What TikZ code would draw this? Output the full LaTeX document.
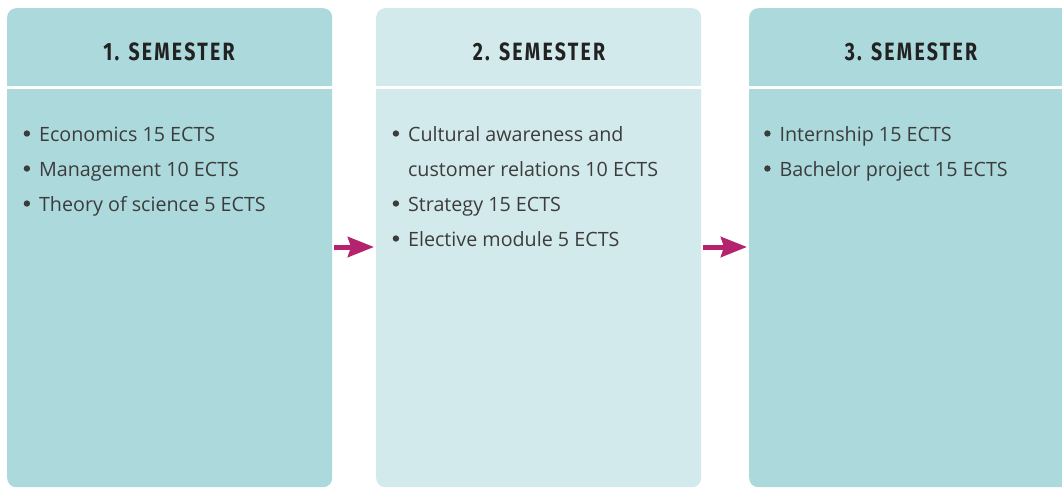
\documentclass[tikz,border=0pt]{standalone}
\usepackage{fontspec}
\setmainfont{Open Sans}
\newfontfamily\headfont[FakeStretch=0.78,LetterSpace=9]{Fira Sans Bold}
\usetikzlibrary{arrows.meta}
\definecolor{boxA}{HTML}{ACD9DC}
\definecolor{boxB}{HTML}{D3EAEC}
\definecolor{arrowc}{HTML}{B5236E}
\definecolor{txt}{HTML}{3C3C3C}
\definecolor{head}{HTML}{222222}
\tikzset{
  sembox/.style={rounded corners=9pt, inner sep=0pt, minimum width=325pt, minimum height=479pt, anchor=north west},
  semhead/.style={font={\headfont\fontsize{25}{25}\selectfont}, text=head, anchor=center, inner sep=0pt},
  items/.style={font={\fontsize{19.7}{35}\selectfont}, text=txt, align=left, anchor=base west, inner sep=0pt},
  sep/.style={draw=white, line width=2.5pt},
  arr/.style={draw=arrowc, line width=5pt, -{Stealth[length=26pt,width=20pt,inset=3pt]}, shorten <=2pt, shorten >=2pt}
}
\newcommand{\bul}{\tikz[baseline=0pt,x=1pt,y=1pt]\fill[txt] (3.2,7.5) circle (3.2);\hspace{9pt}}
\newcommand{\cont}{\hspace*{15.4pt}}
\begin{document}
\begin{tikzpicture}[x=1pt,y=-1pt]
\useasboundingbox (0,0) rectangle (1062,487);
\clip (0,0) rectangle (1062,487);
\node[sembox, fill=boxA] (b1) at (7,8) {};
\node[sembox, fill=boxB] (b2) at (376,8) {};
\node[sembox, fill=boxA, minimum width=340pt] (b3) at (749,8) {};
\draw[sep] (b1.west |- 0,87.5) -- (b1.east |- 0,87.5);
\draw[sep] (b2.west |- 0,87.5) -- (b2.east |- 0,87.5);
\draw[sep] (b3.west |- 0,87.5) -- (b3.east |- 0,87.5);
\node[semhead] (h1) at (169,51.5) {1. SEMESTER};
\node[semhead] (h2) at (539,51.5) {2. SEMESTER};
\node[semhead] (h3) at (911,51.5) {3. SEMESTER};
\node[items] (l1) at (23.5,211) {\bul Economics 15 ECTS\\ \bul Management 10 ECTS\\ \bul Theory of science 5 ECTS};
\node[items] (l2) at (392.5,246) {\bul Cultural awareness and\\ \cont customer relations 10 ECTS\\ \bul Strategy 15 ECTS\\ \bul Elective module 5 ECTS};
\node[items] (l3) at (764,176) {\bul Internship 15 ECTS\\ \bul Bachelor project 15 ECTS};
\draw[arr] (b1.east |- 0,247) -- (b2.west |- 0,247);
\draw[arr] (b2.east |- 0,247) -- (b3.west |- 0,247);
\end{tikzpicture}
\end{document}
